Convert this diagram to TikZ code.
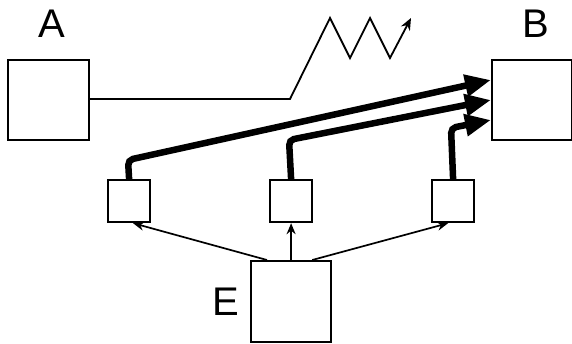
\documentclass[tikz,border=0pt]{standalone}
\usepackage{fontspec}
\setmainfont{Liberation Sans}
\usetikzlibrary{arrows.meta}
\begin{document}
\begin{tikzpicture}[x=1pt,y=-1pt,
  blk/.style={draw,line width=2.2pt,inner sep=0pt,anchor=north west},
  lbl/.style={font=\fontsize{40}{40}\selectfont,inner sep=0pt},
  thin/.style={line width=1.7pt,-{Stealth[length=11pt,width=9pt]}},
  heavy/.style={line width=6.5pt,rounded corners=5pt,-{Triangle[length=26pt,width=21pt]}}]
\useasboundingbox (0,0) rectangle (572,343);
% main blocks
\node[blk,minimum width=81pt,minimum height=80pt] (A) at (7,59) {};
\node[blk,minimum width=80pt,minimum height=80pt] (B) at (491,59) {};
\node[blk,minimum width=80pt,minimum height=81pt] (E) at (250,260) {};
% small blocks
\node[blk,minimum width=42pt,minimum height=42pt] (s1) at (107,179) {};
\node[blk,minimum width=42pt,minimum height=42pt] (s2) at (269,179) {};
\node[blk,minimum width=42pt,minimum height=42pt] (s3) at (431,179) {};
% labels
\node[lbl] (la) at (52,24) {A};
\node[lbl] (lb) at (536,24) {B};
\node[lbl] (le) at (226,302) {E};
% line from A ending in a zigzag arrow
\coordinate (zz) at (411,18);
\draw[line width=1.8pt,-{Stealth[length=12pt,width=10pt]}]
  (A.east |- 0,99) -- (290,99) -- (330,18) -- (350,58) -- (370,18) -- (390,58) -- (zz);
% thin arrows from E
\draw[thin] ([xshift=17pt]E.north west) -- ([xshift=4pt]s1.south);
\draw[thin] (E.north) -- (s2.south);
\draw[thin] ([xshift=-20pt]E.north east) -- ([xshift=-5pt]s3.south);
% heavy arrows into B
\draw[heavy] (s1.north) -- (128,160) -- (B.west |- 0,80);
\draw[heavy] (s2.north) -- (289,140) -- (B.west |- 0,100);
\draw[heavy] (s3.north) -- (451,128) -- (B.west |- 0,120);
\end{tikzpicture}
\end{document}
